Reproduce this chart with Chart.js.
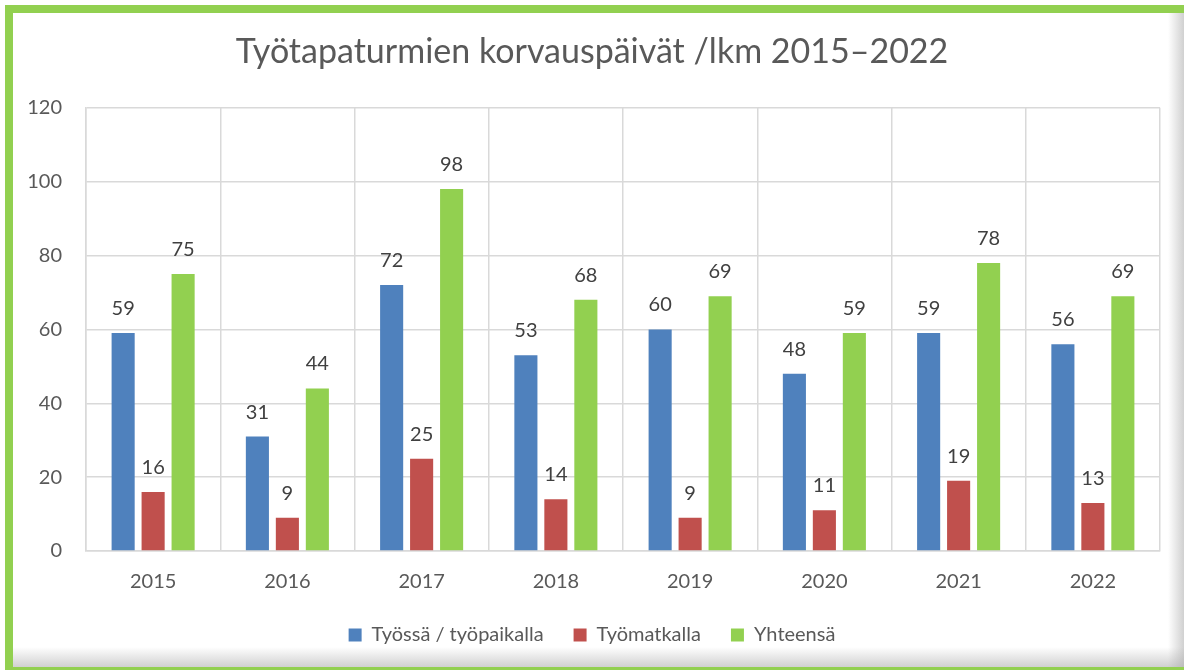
<!doctype html>
<html lang="fi">
<head>
<meta charset="utf-8">
<title>Työtapaturmien korvauspäivät</title>
<style>
  * { margin: 0; padding: 0; }
  body { width: 1184px; height: 670px; background: #fff; position: relative; overflow: hidden; }
  .frame {
    position: absolute; left: 5px; top: 5px; right: 0; bottom: 0;
    border-left: 8px solid #92D050; border-top: 8px solid #92D050; border-bottom: 3px solid #92D050;
  }
  .shadeRight {
    position: absolute; right: 0; top: 13px; bottom: 3px; width: 16px;
    background: linear-gradient(to right, rgba(255,255,255,0), rgba(170,170,170,0.55));
  }
  .shadeBottom {
    position: absolute; left: 13px; right: 0; bottom: 3px; height: 20px;
    background: linear-gradient(to bottom, rgba(255,255,255,0), rgba(170,170,170,0.55));
  }
  canvas { position: absolute; left: 0; top: 0; }
</style>
</head>
<body>
<div class="frame"></div>
<div class="shadeRight"></div>
<div class="shadeBottom"></div>
<canvas id="injuryChart" width="1184" height="670"></canvas>

<script src="https://cdn.jsdelivr.net/npm/chart.js"></script>
<script>
  const years = ['2015', '2016', '2017', '2018', '2019', '2020', '2021', '2022']
  const atWork = [59, 31, 72, 53, 60, 48, 59, 56]
  const commuting = [16, 9, 25, 14, 9, 11, 19, 13]
  const total = [75, 44, 98, 68, 69, 59, 78, 69]

  const textColor = '#595959'
  const gridColor = '#D9D9D9'
  const fontFamily = 'Lato, "Open Sans", sans-serif'

  // value labels above the bars
  const valueLabels = {
    id: 'valueLabels',
    afterDatasetsDraw(chart) {
      const c = chart.ctx
      c.save()
      c.font = '20px ' + fontFamily
      c.fillStyle = '#404040'
      c.textAlign = 'center'
      c.textBaseline = 'alphabetic'
      chart.data.datasets.forEach((ds, i) => {
        chart.getDatasetMeta(i).data.forEach((bar, j) => {
          c.fillText(ds.data[j], bar.x, bar.y - 18)
        })
      })
      c.restore()
    }
  }

  const barOpts = {
    categoryPercentage: 0.67,
    barPercentage: 0.77,
    borderWidth: 0
  }

  const ctx = document.getElementById('injuryChart')

  new Chart(ctx, {
    type: 'bar',
    data: {
      labels: years,
      datasets: [
        { label: 'Työssä / työpaikalla', data: atWork, backgroundColor: '#4F81BD', ...barOpts },
        { label: 'Työmatkalla', data: commuting, backgroundColor: '#C0504D', ...barOpts },
        { label: 'Yhteensä', data: total, backgroundColor: '#92D050', ...barOpts }
      ]
    },
    plugins: [valueLabels],
    options: {
      responsive: false,
      animation: false,
      layout: {
        padding: { left: 24, right: 24, top: 0, bottom: 15 }
      },
      scales: {
        y: {
          min: 0,
          max: 120,
          ticks: {
            stepSize: 20,
            padding: 24,
            color: textColor,
            font: { family: fontFamily, size: 20 }
          },
          grid: { color: gridColor, lineWidth: 1.5, drawTicks: false },
          border: { color: gridColor, width: 1.5 },
          afterFit(scale) { scale.width = 62 }
        },
        x: {
          ticks: {
            padding: 19,
            color: textColor,
            font: { family: fontFamily, size: 20 }
          },
          grid: { color: gridColor, lineWidth: 1.5, drawTicks: false, offset: true },
          border: { color: gridColor, width: 1.5 },
          afterFit(scale) { scale.height = 44 }
        }
      },
      plugins: {
        title: {
          display: true,
          text: 'Työtapaturmien korvauspäivät /lkm 2015–2022',
          color: textColor,
          font: { family: fontFamily, size: 34, weight: 'normal' },
          padding: { top: 32, bottom: 35 }
        },
        legend: {
          position: 'bottom',
          labels: {
            color: textColor,
            font: { family: fontFamily, size: 20 },
            boxWidth: 13,
            boxHeight: 13,
            padding: 30
          }
        },
        tooltip: { enabled: false }
      }
    }
  })
</script>
</body>
</html>
